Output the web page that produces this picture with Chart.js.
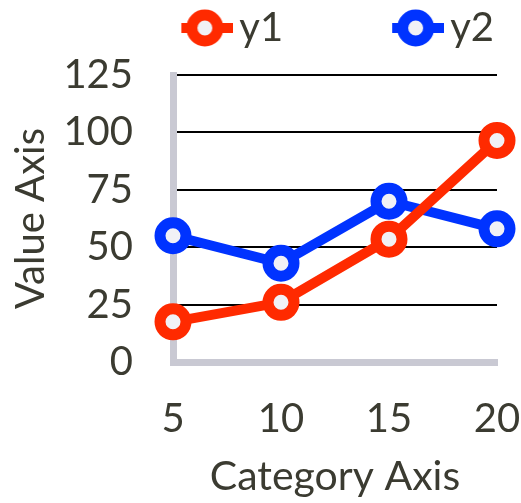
<!DOCTYPE html>
<html>
<head>
<meta charset="utf-8">
<script src="https://cdn.jsdelivr.net/npm/chart.js@4/dist/chart.umd.min.js"></script>
<style>
  html, body { margin: 0; padding: 0; background: #ffffff; }
  #wrap { width: 521px; height: 503px; }
</style>
</head>
<body>
<div id="wrap"><canvas id="chart" width="521" height="503"></canvas></div>
<script>
// Data
const categories = ['5', '10', '15', '20'];
const y1Values = [17.5, 26, 53.5, 96.5];
const y2Values = [55, 43, 70, 58];
const yTicks = [0, 25, 50, 75, 100, 125];
const seriesNames = ['y1', 'y2'];
const seriesColors = ['#ff2a00', '#0033ff'];

// Styling
const TEXT = '#3b3b31';
const AXIS_GREY = '#c9c9d3';
const POINT_FILL = '#f1f1f6';
const FONT = 'Lato';
const LEGEND_FONT = 40;
const LEGEND_PAD = 8;
const LEGEND_BOX = 139;
const LEGEND_GAP = 17;

// Legend icon: a short stroke with a ringed marker, sitting just left of the label text
function legendIcon(color) {
  const half = LEGEND_FONT / 2 + LEGEND_BOX / 2 - 6;
  const c = document.createElement('canvas');
  c.width = Math.round(half * 2);
  c.height = 44;
  const g = c.getContext('2d');
  const right = c.width;
  const cy = c.height / 2;
  g.strokeStyle = color;
  g.lineWidth = 10;
  g.beginPath();
  g.moveTo(right - 52, cy);
  g.lineTo(right, cy);
  g.stroke();
  g.beginPath();
  g.arc(right - 28.5, cy, 13, 0, Math.PI * 2);
  g.fillStyle = POINT_FILL;
  g.fill();
  g.lineWidth = 11;
  g.stroke();
  return c;
}

// Extra space between the legend row and the plot
const legendGap = {
  id: 'legendGap',
  beforeLayout(chart, args, opts) {
    const legend = chart.legend;
    if (!legend || legend._gapPatched) return;
    const fit = legend.fit;
    legend.fit = function () {
      fit.call(this);
      this.height += opts.gap || 0;
    };
    legend._gapPatched = true;
  }
};

function lineSeries(label, values, color) {
  return {
    label: label,
    data: values,
    borderColor: color,
    backgroundColor: color,
    borderWidth: 10,
    pointRadius: 13,
    pointHoverRadius: 13,
    pointBorderWidth: 11,
    pointHoverBorderWidth: 11,
    pointBackgroundColor: POINT_FILL,
    pointBorderColor: color,
    tension: 0,
    fill: false
  };
}

function build() {
  Chart.defaults.font.family = FONT;
  const icons = seriesColors.map(legendIcon);

  new Chart(document.getElementById('chart'), {
    type: 'line',
    plugins: [legendGap],
    data: {
      labels: categories,
      datasets: [
        lineSeries(seriesNames[0], y1Values, seriesColors[0]),
        lineSeries(seriesNames[1], y2Values, seriesColors[1])
      ]
    },
    options: {
      responsive: false,
      animation: false,
      devicePixelRatio: 1,
      layout: { padding: { left: 0, right: 19, top: 0, bottom: 0 } },
      plugins: {
        tooltip: { enabled: false },
        legendGap: { gap: LEGEND_GAP },
        legend: {
          display: true,
          position: 'top',
          align: 'end',
          fullSize: true,
          labels: {
            usePointStyle: true,
            pointStyleWidth: LEGEND_BOX,
            padding: LEGEND_PAD,
            color: TEXT,
            font: { size: LEGEND_FONT },
            generateLabels: (chart) => chart.data.datasets.map((ds, i) => ({
              text: ds.label,
              fillStyle: ds.borderColor,
              strokeStyle: ds.borderColor,
              lineWidth: 0,
              pointStyle: icons[i],
              hidden: !chart.isDatasetVisible(i),
              datasetIndex: i,
              fontColor: TEXT
            }))
          }
        }
      },
      scales: {
        x: {
          type: 'category',
          offset: false,
          afterFit: (scale) => {
            scale.height = 141;
            scale.paddingLeft = 0;
            scale.paddingRight = 4;
          },
          grid: { display: false, drawTicks: false },
          border: { display: true, color: AXIS_GREY, width: 7 },
          ticks: { color: TEXT, font: { size: 40 }, padding: 33, maxRotation: 0, autoSkip: false },
          title: {
            display: true, text: 'Category Axis', color: TEXT,
            font: { size: 41 }, padding: { top: 4, bottom: 2 }
          }
        },
        y: {
          min: 0,
          max: 125,
          afterBuildTicks: (scale) => { scale.ticks = yTicks.map(v => ({ value: v })); },
          afterFit: (scale) => { scale.width = 173; },
          grid: {
            color: (ctx) => (ctx.tick && ctx.tick.value === 0) ? 'rgba(0,0,0,0)' : '#000000',
            lineWidth: 2,
            drawTicks: false
          },
          border: { display: true, color: AXIS_GREY, width: 7 },
          ticks: { color: TEXT, font: { size: 40 }, padding: 40 },
          title: {
            display: true, text: 'Value Axis', color: TEXT,
            font: { size: 40 }, padding: { top: 7, bottom: 4 }
          }
        }
      }
    }
  });
}

if (document.fonts && document.fonts.load) {
  document.fonts.load('40px ' + FONT).then(build, build);
} else {
  build();
}
</script>
</body>
</html>
